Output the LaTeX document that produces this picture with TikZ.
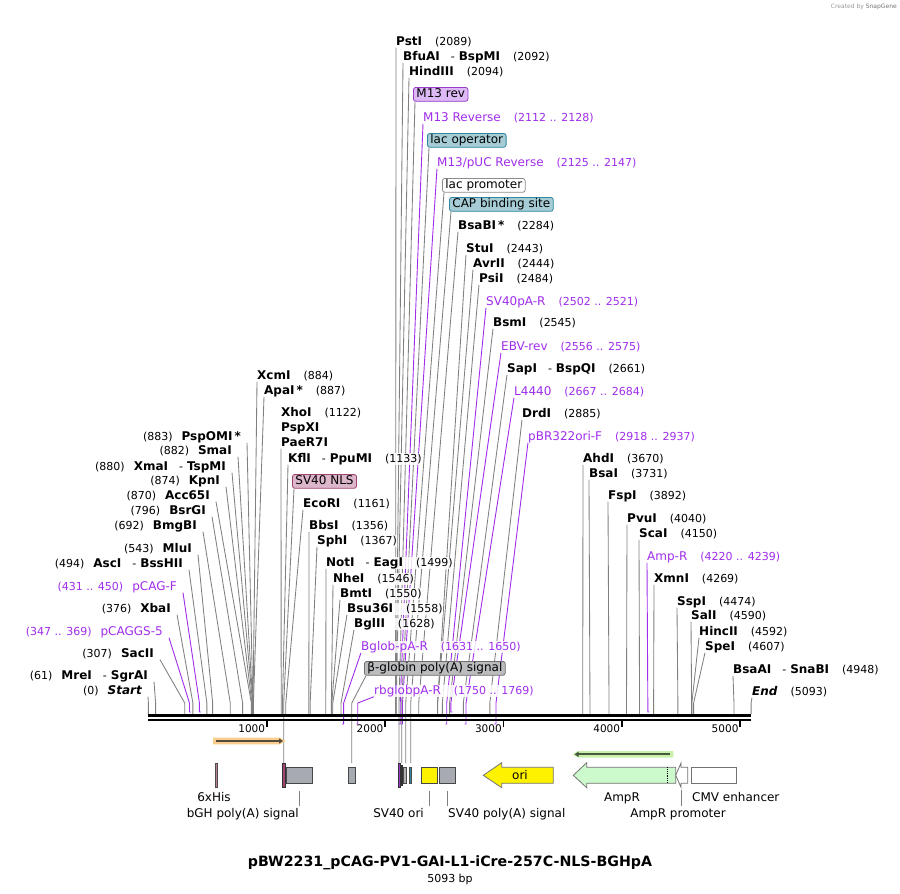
\documentclass[tikz,border=0pt]{standalone}
\usepackage{fontspec}
\setmainfont{DejaVu Sans}[BoldFont={DejaVu Sans Bold},ItalicFont={DejaVu Sans Oblique},BoldItalicFont={DejaVu Sans Bold Oblique}]
\usetikzlibrary{backgrounds,arrows.meta}

\definecolor{primer}{RGB}{160,45,235}
\definecolor{sitegray}{RGB}{128,128,128}
\definecolor{nlsfill}{RGB}{220,182,202}
\definecolor{nlsline}{RGB}{160,70,110}
\definecolor{m13fill}{RGB}{221,186,245}
\definecolor{m13line}{RGB}{150,60,200}
\definecolor{lacfill}{RGB}{166,204,214}
\definecolor{lacline}{RGB}{50,135,160}
\definecolor{bglobfill}{RGB}{186,188,190}
\definecolor{bglobline}{RGB}{110,110,110}
\definecolor{boxgray}{RGB}{167,171,177}
\definecolor{boxline}{RGB}{70,70,70}
\definecolor{ampfill}{RGB}{204,250,204}
\definecolor{orfband}{RGB}{250,205,140}
\definecolor{orfline}{RGB}{85,75,60}
\definecolor{ampband}{RGB}{200,240,170}
\definecolor{ampline}{RGB}{70,90,60}

\newcommand{\enzname}[1]{{\fontsize{12}{14}\selectfont\bfseries #1}}
\newcommand{\bpnum}[1]{{\fontsize{11}{13}\selectfont (#1)}}
\newcommand{\enzsep}{\hspace{11pt}{\mdseries\fontsize{11}{13}\selectfont -}\hspace{4pt}}
\newcommand{\ftext}{\fontsize{12}{14}\selectfont}

\begin{document}
\begin{tikzpicture}[x=1pt, y=-1pt,
        lbl/.style={inner sep=0pt, text height=9pt, text depth=2.5pt, fill=white, fill opacity=0.85, text opacity=1},
        cut/.style={draw=sitegray, line width=0.85pt},
        prm/.style={draw=primer, line width=0.9pt},
        flag/.style={rounded corners=2.5pt, line width=0.8pt, inner xsep=3pt, inner ysep=1.2pt, text height=9pt, text depth=2.5pt, font=\ftext, anchor=north west},
        fbox/.style={draw=boxline, line width=0.9pt, inner sep=0pt, minimum height=16pt},
        flab/.style={inner sep=0pt, font=\ftext},
        ]
        \useasboundingbox (0,0) rectangle (900,894);
        \node[anchor=east, inner sep=0pt, font=\fontsize{6}{7}\selectfont, text=black!40] (brand) at (897,7) {Created by \textcolor{black!55}{SnapGene}};

        %Enzymes right of their lines
        \foreach \bp/\xl/\yb/\nm [count=\i] in {
            884/257/379/XcmI, 887/264/394/{ApaI\,*}, 1133/288/462/{KflI\enzsep PpuMI},
            1161/303/507/EcoRI, 1356/309/529/BbsI, 1367/317/544/SphI,
            1499/326/566/{NotI\enzsep EagI}, 1546/333/582/NheI, 1550/340/597/BmtI,
            1558/347/612/Bsu36I, 1628/354/627/BglII,
            2089/396/45/PstI, 2092/403/60/{BfuAI\enzsep BspMI}, 2094/409/75/HindIII,
            2284/458/229/{BsaBI\,*}, 2443/466/252/StuI, 2444/473/267/AvrII,
            2484/479/282/PsiI, 2545/493/326/BsmI, 2661/507/372/{SapI\enzsep BspQI},
            2885/522/417/DrdI, 3670/583/462/AhdI, 3731/589/477/BsaI,
            3892/608/499/FspI, 4040/627/522/PvuI, 4150/639/537/ScaI,
            4269/654/582/XmnI, 4474/677/605/SspI, 4590/691/619/SalI,
            4592/699/635/HincII, 4607/705/650/SpeI, 4948/733/673/{BsaAI\enzsep SnaBI},
            5093/752/695/{\itshape End}}
        {
            \pgfmathsetmacro\sx{148.4+0.11834*\bp}
            \node[lbl, anchor=base west] (re\i) at (\xl,\yb) {\enzname{\nm}\hspace{13pt}\bpnum{\bp}};
            \coordinate (rs\i) at (\sx,703);
            \begin{pgfonlayer}{background}
                \draw[cut] (re\i.south west) -- (rs\i) -- (\sx,714);
            \end{pgfonlayer}
        }
        \node[lbl, anchor=base west] (xho) at (281,416) {\enzname{XhoI}\hspace{13pt}\bpnum{1122}};
        \node[lbl, anchor=base west] (pspx) at (281,431) {\enzname{PspXI}};
        \node[lbl, anchor=base west] (paer) at (281,446) {\enzname{PaeR7I}};
        \coordinate (xhos) at (281.2,703);
        \begin{pgfonlayer}{background}
            \draw[cut] (paer.south west) -- (xhos) -- (281.2,714);
        \end{pgfonlayer}

        %Enzymes left of their lines
        \foreach \bp/\xr/\yb/\nm [count=\i] in {
            883/241/440/{PspOMI\,*}, 882/232/454/SmaI, 880/226/470/{XmaI\enzsep TspMI},
            874/220/484/KpnI, 870/210/499/Acc65I, 796/206/514/BsrGI,
            692/197/529/BmgBI, 543/192/552/MluI, 494/183/567/{AscI\enzsep BssHII},
            376/171/612/XbaI, 307/154/657/SacII, 61/148/679/{MreI\enzsep SgrAI},
            0/142/694/{\itshape Start}}
        {
            \pgfmathsetmacro\sx{148.4+0.11834*\bp}
            \node[lbl, anchor=base east] (le\i) at (\xr,\yb) {\bpnum{\bp}\hspace{9pt}\enzname{\nm}};
            \coordinate (ls\i) at (\sx,703);
            \begin{pgfonlayer}{background}
                \draw[cut] ([xshift=6pt]le\i.south east) -- (ls\i) -- (\sx,714);
            \end{pgfonlayer}
        }

        %Primers
        \foreach \bp/\xl/\yb/\nm/\rng/\ey/\hk [count=\i] in {
            1650/361/650/Bglob-pA-R/{1631 .. 1650}/724/-1.5,
            1769/374/694/rbglobpA-R/{1750 .. 1769}/724/-1.5,
            2128/423/121/{M13 Reverse}/{2112 .. 2128}/724/-1.5,
            2147/437/166/{M13\slash pUC Reverse}/{2125 .. 2147}/724/-1.5,
            2521/486/305/SV40pA-R/{2502 .. 2521}/724/-1.5,
            2556/501/350/EBV-rev/{2556 .. 2575}/712/1.5,
            2684/514/395/L4440/{2667 .. 2684}/724/-1.5,
            2937/528/440/pBR322ori-F/{2918 .. 2937}/724/-1.5,
            4220/647/560/Amp-R/{4220 .. 4239}/712/1.5}
        {
            \pgfmathsetmacro\sx{148.4+0.11834*\bp}
            \node[lbl, anchor=base west, text=primer] (pr\i) at (\xl,\yb) {{\ftext\nm}\hspace{13pt}\bpnum{\rng}};
            \coordinate (ps\i) at (\sx,703);
            \begin{pgfonlayer}{background}
                \draw[prm] (pr\i.south west) -- (ps\i) -- (\sx,\ey) -- ++(\hk,0);
            \end{pgfonlayer}
        }
        \foreach \bp/\xr/\yb/\nm/\rng [count=\i] in {
            431/177/590/pCAG-F/{431 .. 450}, 347/163/635/pCAGGS-5/{347 .. 369}}
        {
            \pgfmathsetmacro\sx{148.4+0.11834*\bp}
            \node[lbl, anchor=base east, text=primer] (pl\i) at (\xr,\yb) {\bpnum{\rng}\hspace{9pt}{\ftext\nm}};
            \coordinate (pls\i) at (\sx,703);
            \begin{pgfonlayer}{background}
                \draw[prm] ([xshift=6pt]pl\i.south east) -- (pls\i) -- (\sx,712) -- ++(1.5,0);
            \end{pgfonlayer}
        }

        %Feature flags above the axis
        \node[flag, fill=nlsfill, draw=nlsline] (nls) at (292,474) {SV40 NLS};
        \node[flag, fill=bglobfill, draw=bglobline] (bglob) at (364,661) {β-globin poly(A) signal};
        \node[flag, fill=m13fill, draw=m13line] (m13rev) at (413,87) {M13 rev};
        \node[flag, fill=lacfill, draw=lacline] (lacop) at (427,133) {lac operator};
        \node[flag, fill=white, draw=black!45] (lacpro) at (442,178) {lac promoter};
        \node[flag, fill=lacfill, draw=lacline] (cap) at (449,197) {CAP binding site};
        \foreach \f/\x in {nls/283.7, bglob/351.8, m13rev/399, lacop/401.7, lacpro/405.7, cap/410.7}
        {
            \coordinate (\f s) at (\x,703);
            \begin{pgfonlayer}{background}
                \draw[cut] ([xshift=2pt]\f.south west) -- (\f s) -- (\x,763);
            \end{pgfonlayer}
        }

        %Axis
        \coordinate (axL) at (148.4,0);
        \coordinate (axR) at (751,0);
        \draw[line width=2.4pt] ([yshift=-715.6pt]axL) -- ([yshift=-715.6pt]axR);
        \draw[line width=2.4pt] ([yshift=-720.2pt]axL) -- ([yshift=-720.2pt]axR);
        \foreach \t in {1000,2000,3000,4000,5000}
        {
            \pgfmathsetmacro\tx{148.4+0.11834*\t}
            \draw[line width=1.6pt] (\tx,721) -- (\tx,727);
            \node[anchor=base east, inner sep=0pt, font=\fontsize{10.5}{12}\selectfont] (tk\t) at (\tx-1.5,732.5) {\t};
        }

        %Reading frames
        \fill[orfband] (213,737.7) -- (280,737.7) -- (285.5,741) -- (280,744.3) -- (213,744.3) -- cycle;
        \draw[orfline, line width=1.8pt, -{Triangle[length=4pt,width=5pt]}] (216,741) -- (283,741);
        \fill[ampband] (673.3,751) -- (578,751) -- (572.5,754.3) -- (578,757.6) -- (673.3,757.6) -- cycle;
        \draw[ampline, line width=1.8pt, -{Triangle[length=4pt,width=5pt]}] (670,754.3) -- (574.5,754.3);

        %Features
        \draw[fill=nlsline!70, draw=black!70, line width=0.5pt] (215.2,763) rectangle (216.8,787);
        \draw[fill=nlsline, draw=black!80, line width=0.6pt] (282.4,763) rectangle (285,787);
        \node[fbox, fill=boxgray, minimum width=26.7pt] (bgh) at (299.3,775.3) {};
        \node[fbox, fill=boxgray, minimum width=7.4pt] (bglobbox) at (352,775.3) {};
        \draw[fill=m13line, draw=black!80, line width=0.5pt] (398.2,763) rectangle (400.4,787);
        \draw[fill=lacline!60!black, draw=black!80, line width=0.4pt] (401.2,765) rectangle (402.4,785);
        \draw[fill=black!30, draw=black!70, line width=0.5pt] (403,767) rectangle (406.4,783);
        \draw[fill=lacline, draw=black!70, line width=0.5pt] (409,767) rectangle (411.3,783);
        \node[fbox, fill=yellow, minimum width=16.7pt] (sv40ori) at (429.3,775.3) {};
        \node[fbox, fill=boxgray, minimum width=16.7pt] (sv40pa) at (447.3,775.3) {};
        \draw[fill=yellow, draw=black!55, line width=0.8pt] (553.3,767.3) -- (501.7,767.3) -- (501.7,762.7) -- (483.3,775.3) -- (501.7,787.7) -- (501.7,783.3) -- (553.3,783.3) -- cycle;
        \node[flab] (ori) at (520,775.3) {ori};
        \draw[fill=ampfill, draw=black!55, line width=0.8pt] (675.7,767.3) -- (586.7,767.3) -- (586.7,762.7) -- (573.3,775.3) -- (586.7,787.7) -- (586.7,783.3) -- (675.7,783.3) -- cycle;
        \draw[densely dotted, line width=0.8pt] (667.7,767.3) -- (667.7,783.3);
        \draw[fill=white, draw=black!55, line width=0.8pt] (687.7,767.3) -- (681,767.3) -- (681,763) -- (675.7,775.3) -- (681,787.3) -- (681,783.3) -- (687.7,783.3) -- cycle;
        \coordinate (amppro) at (681,787.3);
        \node[fbox, fill=white, draw=black!55, minimum width=45.7pt] (cmv) at (713.8,775.3) {};

        %Feature labels
        \node[flab, anchor=base] (hislab) at (214,801) {6xHis};
        \node[flab, anchor=base east] (bghlab) at (299,817) {bGH poly(A) signal};
        \node[flab, anchor=base east] (orilab) at (424,817) {SV40 ori};
        \node[flab, anchor=base west] (palab) at (448,817) {SV40 poly(A) signal};
        \node[flab, anchor=base] (amplab) at (622,801) {AmpR};
        \node[flab, anchor=base] (prolab) at (678,817) {AmpR promoter};
        \node[flab, anchor=base west] (cmvlab) at (692,801) {CMV enhancer};
        \draw[cut] ([yshift=-7pt]bgh.south) -- (bgh.south |- 0,806);
        \draw[cut] ([yshift=-7pt]sv40ori.south) -- (sv40ori.south |- 0,806);
        \draw[cut] ([yshift=-7pt]sv40pa.south) -- (sv40pa.south |- 0,806);
        \draw[cut] ([yshift=-3pt]amppro) -- (amppro |- 0,806);

        %Title
        \node[anchor=base, inner sep=0pt, font=\fontsize{14.2}{16}\selectfont\bfseries] (title) at (450,866.7) {pBW2231\_pCAG-PV1-GAI-L1-iCre-257C-NLS-BGHpA};
        \node[anchor=base, inner sep=0pt, font=\fontsize{11}{13}\selectfont] (size) at (450,882.7) {5093 bp};
\end{tikzpicture}
\end{document}
